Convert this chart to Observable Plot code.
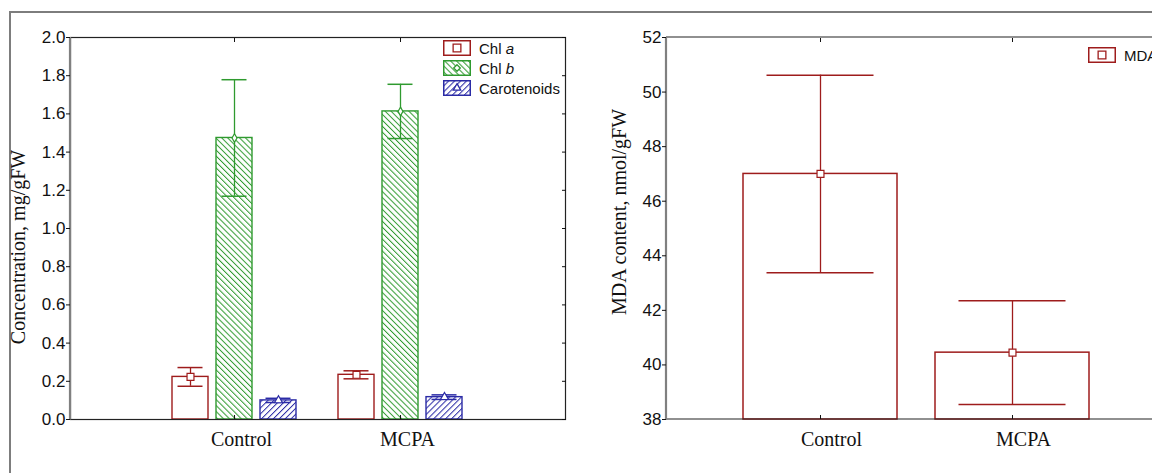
<!DOCTYPE html>
<html>
<head>
<meta charset="utf-8">
<script src="https://cdn.jsdelivr.net/npm/d3@7"></script>
<script src="https://cdn.jsdelivr.net/npm/@observablehq/plot@0.6"></script>
<style>
  html, body { margin: 0; padding: 0; background: #fff; overflow: hidden; }
  #wrap { position: relative; width: 1152px; height: 473px; overflow: hidden; background: #fff; }
  #outer { position: absolute; left: 9px; top: 11px; width: 1300px; height: 600px;
           border-left: 2px solid #7d7d7d; border-top: 2px solid #7d7d7d; }
  .panel { position: absolute; top: 0; overflow: hidden; height: 473px; }
  .panel svg { max-width: none !important; display: block; }
  .legend { position: absolute; font-family: "Liberation Sans", Arial, sans-serif; font-size: 15px; color: #111; }
  .legend .row { display: flex; align-items: center; height: 16px; margin-bottom: 4px; white-space: nowrap; }
  .legend svg { margin-right: 8px; flex: none; }
  #titles { position: absolute; left: 0; top: 0; pointer-events: none; }
</style>
</head>
<body>
<svg width="0" height="0" style="position:absolute">
  <defs>
    <pattern id="hatchGreen" patternUnits="userSpaceOnUse" width="4.2" height="4.2" patternTransform="rotate(-45)">
      <rect width="4.2" height="4.2" fill="#ffffff"></rect>
      <line x1="0" y1="0" x2="0" y2="4.2" stroke="#2f9a2f" stroke-width="2.0"></line>
    </pattern>
    <pattern id="hatchBlue" patternUnits="userSpaceOnUse" width="4.2" height="4.2" patternTransform="rotate(45)">
      <rect width="4.2" height="4.2" fill="#ffffff"></rect>
      <line x1="0" y1="0" x2="0" y2="4.2" stroke="#2b2ba6" stroke-width="2.0"></line>
    </pattern>
  </defs>
</svg>
<div id="wrap">
  <div id="outer"></div>
  <div id="left" class="panel" style="left:0px; width:590px"></div>
  <div id="right" class="panel" style="left:580px; width:1000px"></div>
  <div id="legendL" class="legend" style="left:443px; top:40px"></div>
  <div id="legendR" class="legend" style="left:1088px; top:47px"></div>
  <svg id="titles" width="1152" height="473"></svg>
</div>
<script>
// ---------- data ----------
const groups = ["Control", "MCPA"];
const pigmentNames = ["Chl a", "Chl b", "Carotenoids"];
const chlA = [0.223, 0.234];
const chlAErr = [0.049, 0.021];
const chlB = [1.474, 1.613];
const chlBErr = [0.305, 0.142];
const carotenoids = [0.100, 0.117];
const carotenoidsErr = [0.011, 0.012];
const yTicksLeft = [0, 0.2, 0.4, 0.6, 0.8, 1.0, 1.2, 1.4, 1.6, 1.8, 2.0];

const mdaGroups = ["Control", "MCPA"];
const mda = [47.0, 40.45];
const mdaErr = [3.62, 1.9];
const yTicksRight = [38, 40, 42, 44, 46, 48, 50, 52];

const leftTitle = "Concentration, mg/gFW";
const rightTitle = "MDA content, nmol/gFW";
const mdaLegend = "MDA";

// ---------- styles ----------
const RED = "#9e1c1c";
const GREEN = "#2f9a2f";
const BLUE = "#2b2ba6";
const SANS = "Liberation Sans, Arial, sans-serif";
const SERIF = "Liberation Serif, Times New Roman, serif";

function rows(cats, vals, errs) {
  return cats.map((c, i) => ({ group: c, value: vals[i], lo: vals[i] - errs[i], hi: vals[i] + errs[i] }));
}

const series = [
  { name: pigmentNames[0], data: rows(groups, chlA, chlAErr), dx: -44, color: RED, fill: "#ffffff", symbol: "square", r: 3.9 },
  { name: pigmentNames[1], data: rows(groups, chlB, chlBErr), dx: 0, color: GREEN, fill: "url(#hatchGreen)", symbol: "diamond", r: 2.6 },
  { name: pigmentNames[2], data: rows(groups, carotenoids, carotenoidsErr), dx: 44, color: BLUE, fill: "url(#hatchBlue)", symbol: "triangle", r: 3.0 }
];

const ns = "http://www.w3.org/2000/svg";
function axisLineMark(color, width) {
  return (index, scales, values, dims) => {
    const l = document.createElementNS(ns, "line");
    l.setAttribute("x1", dims.marginLeft);
    l.setAttribute("x2", dims.marginLeft);
    l.setAttribute("y1", dims.marginTop);
    l.setAttribute("y2", dims.height - dims.marginBottom + 0.5);
    l.setAttribute("stroke", color);
    l.setAttribute("stroke-width", width);
    return l;
  };
}
// top and bottom frame edges only (the right edge of this panel lies outside the picture)
function topBottomMark(color, width) {
  return (index, scales, values, dims) => {
    const g = document.createElementNS(ns, "g");
    for (const y of [dims.marginTop, dims.height - dims.marginBottom]) {
      const l = document.createElementNS(ns, "line");
      l.setAttribute("x1", dims.marginLeft);
      l.setAttribute("x2", dims.width - dims.marginRight);
      l.setAttribute("y1", y);
      l.setAttribute("y2", y);
      l.setAttribute("stroke", color);
      l.setAttribute("stroke-width", width);
      g.appendChild(l);
    }
    return g;
  };
}

// ---------- left chart ----------
const leftMarks = [];
for (const s of series) {
  leftMarks.push(Plot.barY(s.data, { x: "group", y: "value", dx: s.dx, fill: s.fill, stroke: s.color, strokeWidth: 1.4 }));
}
for (const s of series) {
  leftMarks.push(Plot.ruleX(s.data, { x: "group", y1: "lo", y2: "hi", dx: s.dx, stroke: s.color, strokeWidth: 1.3 }));
  leftMarks.push(Plot.tickY(s.data, { x: "group", y: "hi", dx: s.dx, insetLeft: 5.5, insetRight: 5.5, stroke: s.color, strokeWidth: 1.5 }));
  leftMarks.push(Plot.tickY(s.data, { x: "group", y: "lo", dx: s.dx, insetLeft: 5.5, insetRight: 5.5, stroke: s.color, strokeWidth: 1.5 }));
  leftMarks.push(Plot.dot(s.data, { x: "group", y: "value", dx: s.dx, symbol: s.symbol, r: s.r, fill: "#ffffff", stroke: s.color, strokeWidth: 1.2 }));
}

const leftPlot = Plot.plot({
  width: 590,
  height: 473,
  marginLeft: 70,
  marginRight: 25,
  marginTop: 37,
  marginBottom: 54,
  style: { fontFamily: SANS, fontSize: "17px", color: "#111", background: "transparent", overflow: "visible" },
  x: { type: "band", domain: groups, paddingInner: 0.783, paddingOuter: 0.88, align: 0.5 },
  y: { domain: [0, 2] },
  marks: [
    ...leftMarks,
    Plot.frame({ stroke: "#222", strokeWidth: 1.2 }),
    axisLineMark("#808080", 2.2),
    Plot.axisY({ ticks: yTicksLeft, tickFormat: d3.format(".1f"), tickSize: 4, tickPadding: 1, label: null }),
    Plot.axisY({ anchor: "right", ticks: yTicksLeft, tickSize: -4, tickFormat: () => "", label: null }),
    Plot.axisX({ anchor: "top", tickSize: -4, tickFormat: () => "", label: null }),
    Plot.axisX({ anchor: "bottom", tickSize: -4, tickFormat: () => "", label: null }),
    Plot.axisX({ anchor: "bottom", tickSize: 0, tickPadding: 12, dx: 7, fontFamily: SERIF, fontSize: 20, label: null })
  ]
});
document.getElementById("left").appendChild(leftPlot);

// ---------- right chart (its right edge lies beyond the picture) ----------
const mdaRows = rows(mdaGroups, mda, mdaErr).map(d => ({ ...d, base: yTicksRight[0] }));
const rightPlot = Plot.plot({
  width: 700,
  height: 473,
  marginLeft: 86,
  marginRight: 115,
  marginTop: 37,
  marginBottom: 54,
  style: { fontFamily: SANS, fontSize: "17px", color: "#111", background: "transparent", overflow: "visible" },
  x: { type: "band", domain: mdaGroups, paddingInner: 0.2, paddingOuter: 0.393, align: 0.5 },
  y: { domain: [yTicksRight[0], yTicksRight[yTicksRight.length - 1]] },
  marks: [
    Plot.barY(mdaRows, { x: "group", y1: "base", y2: "value", fill: "#ffffff", stroke: RED, strokeWidth: 1.5 }),
    Plot.ruleX(mdaRows, { x: "group", y1: "lo", y2: "hi", stroke: RED, strokeWidth: 1.3 }),
    Plot.tickY(mdaRows, { x: "group", y: "hi", insetLeft: 23.5, insetRight: 23.5, stroke: RED, strokeWidth: 1.5 }),
    Plot.tickY(mdaRows, { x: "group", y: "lo", insetLeft: 23.5, insetRight: 23.5, stroke: RED, strokeWidth: 1.5 }),
    Plot.dot(mdaRows, { x: "group", y: "value", symbol: "square", r: 3.9, fill: "#ffffff", stroke: RED, strokeWidth: 1.2 }),
    topBottomMark("#222", 1.2),
    axisLineMark("#808080", 2.2),
    Plot.axisY({ ticks: yTicksRight, tickFormat: d3.format("d"), tickSize: 4, tickPadding: 1, label: null }),
    Plot.axisX({ anchor: "top", tickSize: -4, tickFormat: () => "", label: null }),
    Plot.axisX({ anchor: "bottom", tickSize: -4, tickFormat: () => "", label: null }),
    Plot.axisX({ anchor: "bottom", tickSize: 0, tickPadding: 12, dx: 11, fontFamily: SERIF, fontSize: 20, label: null })
  ]
});
document.getElementById("right").appendChild(rightPlot);

// ---------- legends ----------
function swatch(color, fill, symbol) {
  const svg = d3.create("svg").attr("width", 28).attr("height", 16);
  svg.append("rect").attr("x", 0.75).attr("y", 0.75).attr("width", 26.5).attr("height", 14.5)
    .attr("fill", fill).attr("stroke", color).attr("stroke-width", 1.5);
  const sym = symbol === "square" ? d3.symbolSquare : symbol === "diamond" ? d3.symbolDiamond2 : d3.symbolTriangle2;
  const size = symbol === "square" ? 60 : symbol === "diamond" ? 28 : 40;
  svg.append("path").attr("transform", "translate(14,8)").attr("d", d3.symbol(sym, size)())
    .attr("fill", "#fff").attr("stroke", color).attr("stroke-width", 1.3);
  return svg.node();
}
const legendL = document.getElementById("legendL");
series.forEach(s => {
  const row = document.createElement("div");
  row.className = "row";
  row.appendChild(swatch(s.color, s.fill, s.symbol));
  const label = document.createElement("span");
  const parts = s.name.split(" ");
  if (parts.length === 2 && parts[1].length === 1) {
    label.appendChild(document.createTextNode(parts[0] + " "));
    const it = document.createElement("i");
    it.textContent = parts[1];
    label.appendChild(it);
  } else {
    label.textContent = s.name;
  }
  row.appendChild(label);
  legendL.appendChild(row);
});
const legendR = document.getElementById("legendR");
{
  const row = document.createElement("div");
  row.className = "row";
  row.appendChild(swatch(RED, "#ffffff", "square"));
  const label = document.createElement("span");
  label.textContent = mdaLegend;
  row.appendChild(label);
  legendR.appendChild(row);
}

// ---------- axis titles ----------
const titles = d3.select("#titles");
titles.append("text").attr("transform", "translate(25,247) rotate(-90)")
  .attr("text-anchor", "middle").attr("font-family", SERIF).attr("font-size", 20).attr("fill", "#111").text(leftTitle);
titles.append("text").attr("transform", "translate(626,212) rotate(-90)")
  .attr("text-anchor", "middle").attr("font-family", SERIF).attr("font-size", 20).attr("fill", "#111").text(rightTitle);
</script>
</body>
</html>
